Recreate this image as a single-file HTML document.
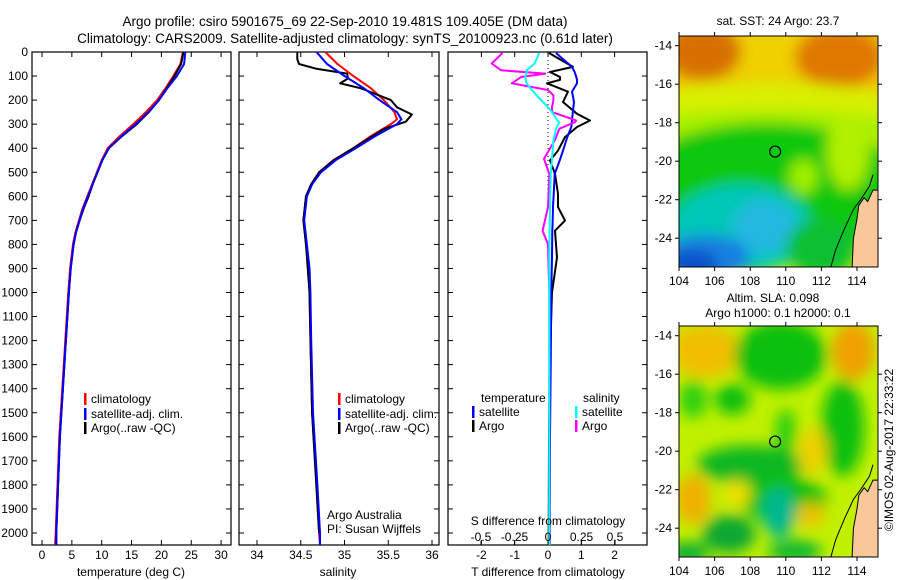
<!DOCTYPE html>
<html><head><meta charset="utf-8"><style>
body{margin:0;background:#fff;}
svg{display:block;font-family:"Liberation Sans",sans-serif;}
</style></head><body>
<svg id="fig" width="900" height="580" viewBox="0 0 900 580" xmlns="http://www.w3.org/2000/svg">
<defs>
<filter id="blur1" x="-20%" y="-20%" width="140%" height="140%"><feGaussianBlur stdDeviation="7"/></filter>
<clipPath id="clipMap1"><rect x="679" y="36" width="199" height="231"/></clipPath>
<clipPath id="clipMap2"><rect x="679" y="326" width="199" height="231"/></clipPath>
</defs>
<text x="345" y="26" font-size="13.5" text-anchor="middle">Argo profile: csiro 5901675_69 22-Sep-2010 19.481S 109.405E (DM data)</text>
<text x="345" y="43" font-size="13.5" text-anchor="middle">Climatology: CARS2009. Satellite-adjusted climatology: synTS_20100923.nc (0.61d later)</text>
<g id="panels"></g>
<g id="maps"></g>
<text transform="translate(893,450) rotate(-90)" font-size="12" text-anchor="middle">©IMOS 02-Aug-2017 22:33:22</text>
</svg>
<script>
// ---- data ----
const depthTicks = [0,100,200,300,400,500,600,700,800,900,1000,1100,1200,1300,1400,1500,1600,1700,1800,1900,2000];
const tempTicks = [0,5,10,15,20,25,30];
const salTicks = [34,34.5,35,35.5,36];
const salTickLabels = ["34","34.5","35","35.5","36"];
const tdiffTicks = [-2,-1,0,1,2];
const sdiffTicks = [-0.5,-0.25,0,0.25,0.5];
const sdiffTickLabels = ["-0.5","-0.25","0","0.25","0.5"];

const tDepth = [0,50,100,150,200,250,300,350,400,450,500,550,600,650,700,750,800,900,1000,1200,1400,1600,1800,2000,2050];
const tClim  = [23.6,23.2,22.0,20.7,19.3,17.4,15.3,13.0,11.0,10.0,9.2,8.4,7.6,6.8,6.2,5.6,5.2,4.7,4.4,3.9,3.4,2.9,2.6,2.3,2.2];
const tSat   = [24.0,23.8,22.6,21.0,19.6,17.8,15.7,13.3,11.2,10.1,9.3,8.5,7.7,6.9,6.3,5.7,5.3,4.8,4.5,4.0,3.5,3.0,2.7,2.4,2.4];
const tArgo  = [23.7,23.3,22.2,20.9,19.6,17.9,15.9,13.4,11.2,10.1,9.3,8.5,7.8,7.0,6.3,5.7,5.3,4.8,4.5,4.0,3.5,3.0,2.7,2.4,2.4];

const sDepth = [0,50,100,150,200,250,280,300,350,400,450,500,550,600,700,800,900,1000,1200,1500,1800,2000,2050];
const sClim  = [34.78,34.92,35.1,35.3,35.45,35.57,35.6,35.53,35.3,35.1,34.87,34.71,34.62,34.56,34.53,34.56,34.6,34.6,34.61,34.63,34.68,34.71,34.72];
const sSat   = [34.68,34.8,35.0,35.22,35.4,35.6,35.65,35.6,35.35,35.13,34.9,34.73,34.63,34.57,34.54,34.57,34.6,34.61,34.62,34.64,34.69,34.72,34.72];
const aDepth = [0,30,50,70,90,110,130,150,200,230,260,290,320,400,450,500,550,600,700,800,1000,1500,2000];
const sArgo  = [34.46,34.46,34.48,34.68,35.03,35.04,34.95,35.18,35.53,35.6,35.77,35.7,35.45,35.1,34.88,34.71,34.62,34.56,34.53,34.56,34.6,34.63,34.71];

const dDepth  = [4,62,83,104,116,130,165,208,257,285,312,354,410,451,507,590,645,701,743,854,1000,1300,1600,2050];
const dTsat   = [0.24,0.72,0.8,0.85,0.87,0.87,0.72,0.78,0.74,0.72,0.7,0.58,0.45,0.35,0.2,0.17,0.15,0.14,0.13,0.12,0.1,0.08,0.06,0.05];
const dTargo  = [0.03,0.75,0.06,0.36,0.36,-0.03,0.6,0.45,0.87,1.26,0.87,0.51,0.3,0.06,0.21,0.3,0.3,0.51,0.21,0.27,0.12,0.05,0.03,0.02];
const sdDepth = [4,48,76,90,104,130,158,180,201,229,250,285,292,319,368,444,507,645,743,800,1000,1500,2050];
const dSsat   = [-0.065,-0.1,-0.16,-0.16,-0.17,-0.16,-0.12,-0.085,-0.05,0,0.03,0.07,0.085,0.06,0.04,0.03,0.02,0.015,0.012,0.01,0.01,0.01,0.01];
const dSargo  = [-0.34,-0.42,-0.35,-0.02,-0.2,-0.27,0,0.04,0.04,0.03,0.03,0.21,0.2,0.085,0.05,-0.03,0.01,0.0,-0.04,0.0,0.01,0.01,0.01];

// ---- helpers ----
const NS = "http://www.w3.org/2000/svg";
const P = document.getElementById('panels');
const M = document.getElementById('maps');
function mk(tag, attrs, parent){ const e=document.createElementNS(NS,tag); for(const k in attrs) e.setAttribute(k,attrs[k]); (parent||P).appendChild(e); return e; }
const yTop=52, yBot=545;
const yDepth = d => yTop + d*0.2405;
const xTemp = t => 42 + t*5.97;
const xSal = s => 257 + (s-34)*87.5;
const xTd = t => 548 + t*33.3;
const xSd = s => 548 + s*134;

function frame(x0,x1,name){
  const r=mk('rect',{x:x0,y:yTop,width:x1-x0,height:yBot-yTop,fill:'none',stroke:'#000','stroke-width':1.2});
  
  
  depthTicks.forEach(d=>{ const y=yDepth(d);
    mk('line',{x1:x0,x2:x0+5,y1:y,y2:y,stroke:'#000'}); mk('line',{x1:x1-5,x2:x1,y1:y,y2:y,stroke:'#000'}); });
}
function xticks(vals,labels,fx,name){
  vals.forEach((v,i)=>{ const x=fx(v);
    mk('line',{x1:x,x2:x,y1:yTop,y2:yTop+5,stroke:'#000'}); mk('line',{x1:x,x2:x,y1:yBot-5,y2:yBot,stroke:'#000'});
    const t=mk('text',{x:x,y:559,'font-size':12,'text-anchor':'middle'}); t.textContent=labels[i];
    
    
  });
}
function line(xs,ds,fx,col,w,name){
  const pts=xs.map((v,i)=>fx(v).toFixed(1)+','+yDepth(ds[i]).toFixed(1)).join(' ');
  const l=mk('polyline',{points:pts,fill:'none',stroke:col,'stroke-width':w||2,'stroke-linejoin':'round'});
  
  
}
function txt(x,y,s,name,anchor,size){ const t=mk('text',{x:x,y:y,'font-size':size||12,'text-anchor':anchor||'start'}); t.textContent=s;
  
   return t; }
function legendEntry(x,y,col,label,name){
  mk('rect',{x:x,y:y-10,width:2.5,height:12,fill:col});
  txt(x+7,y,label,name);
}

// depth labels
depthTicks.forEach(d=>{ txt(28,yDepth(d)+4,String(d),'depth-tick-label','end'); });

// panel 1 temperature
frame(32,231,'temperature-panel');
xticks(tempTicks,tempTicks.map(String),xTemp,'temperature-tick-label');
line(tClim,tDepth,xTemp,'#f00',2,'temperature-climatology-line');
line(tArgo,tDepth,xTemp,'#000',2,'temperature-argo-line');
line(tSat,tDepth,xTemp,'#00f',2,'temperature-satellite-line');
txt(131,576,'temperature (deg C)','temperature-axis-title','middle');
legendEntry(84,403,'#f00','climatology','legend-climatology');
legendEntry(84,418,'#00f','satellite-adj. clim.','legend-satellite');
legendEntry(84,432,'#000','Argo(..raw -QC)','legend-argo');

// panel 2 salinity
frame(239,439,'salinity-panel');
xticks(salTicks,salTickLabels,xSal,'salinity-tick-label');
line(sClim,sDepth,xSal,'#f00',2,'salinity-climatology-line');
line(sArgo,aDepth,xSal,'#000',2,'salinity-argo-line');
line(sSat,sDepth,xSal,'#00f',2,'salinity-satellite-line');
txt(338,576,'salinity','salinity-axis-title','middle');
legendEntry(338,403,'#f00','climatology','legend-climatology-2');
legendEntry(338,418,'#00f','satellite-adj. clim.','legend-satellite-2');
legendEntry(338,432,'#000','Argo(..raw -QC)','legend-argo-2');
txt(327,519,'Argo Australia','argo-australia-label');
txt(327,533,'PI: Susan Wijffels','pi-label');

// panel 3 differences
frame(448,647,'difference-panel');
xticks(tdiffTicks,tdiffTicks.map(String),xTd,'tdiff-tick-label');
mk('line',{x1:548,x2:548,y1:yTop,y2:200,stroke:'#000','stroke-dasharray':'1,3'});
line(dTargo,dDepth,xTd,'#000',2,'tdiff-argo-line');
line(dTsat,dDepth,xTd,'#00f',2,'tdiff-satellite-line');
line(dSargo,sdDepth,xSd,'#f0f',2,'sdiff-argo-line');
line(dSsat,sdDepth,xSd,'#0ff',2,'sdiff-satellite-line');
sdiffTicks.forEach((v,i)=>{ const x=xSd(v); mk('line',{x1:x,x2:x,y1:541,y2:545,stroke:'#000'});
  txt(x,541,sdiffTickLabels[i],'sdiff-tick-label','middle'); });
txt(548,525,'S difference from climatology','sdiff-axis-title','middle');
txt(548,576,'T difference from climatology','tdiff-axis-title','middle');
txt(481,402,'temperature','legend-temperature-header');
txt(583,402,'salinity','legend-salinity-header');
legendEntry(472,416,'#00f','satellite','legend-t-satellite');
legendEntry(472,430,'#000','Argo','legend-t-argo');
legendEntry(575,416,'#0ff','satellite','legend-s-satellite');
legendEntry(575,430,'#f0f','Argo','legend-s-argo');

// ---- maps ----
const lonTicks=[104,106,108,110,112,114];
const latTicks=[-14,-16,-18,-20,-22,-24];
function drawMap(y0,clip,blobs,bg,name){
  const xl = lon => 679 + (lon-104)*17.8;
  const yl = lat => (y0+9.7) + (-14-lat)*19.25;
  const g=mk('g',{'clip-path':'url(#'+clip+')'},M);
  
  
  mk('rect',{x:679,y:y0,width:199,height:231,fill:bg},g);
  const gb=mk('g',{filter:'url(#blur1)'},g);
  blobs.forEach(b=>{ mk('ellipse',{cx:xl(b[0]),cy:yl(b[1]),rx:b[2]*17.8,ry:b[3]*19.25,fill:b[4]},gb); });
  // land
  const land=[[113.7,-26],[113.8,-24],[114.0,-23],[114.1,-22.3],[114.4,-21.9],[114.6,-22.1],[114.9,-21.5],[115.5,-21.5],[115.5,-26]];
  mk('polygon',{points:land.map(p=>xl(p[0])+','+yl(p[1])).join(' '),fill:'#f8c898',stroke:'#000','stroke-width':1},g);
  const coast=[[112.5,-25.6],[112.8,-24.6],[113.3,-23.5],[113.8,-22.5],[114.2,-22],[114.7,-21.3],[114.9,-20.7]];
  mk('polyline',{points:coast.map(p=>xl(p[0])+','+yl(p[1])).join(' '),fill:'none',stroke:'#000','stroke-width':1},g);
  mk('circle',{cx:xl(109.4),cy:yl(-19.5),r:5.5,fill:'none',stroke:'#000','stroke-width':1.2},M);
  mk('rect',{x:679,y:y0,width:199,height:231,fill:'none',stroke:'#000','stroke-width':1},M);
  lonTicks.forEach(l=>{ const x=xl(l); mk('line',{x1:x,x2:x,y1:y0-4,y2:y0,stroke:'#000'},M); mk('line',{x1:x,x2:x,y1:y0+231,y2:y0+235,stroke:'#000'},M);
    const t=mk('text',{x:x,y:y0+249,'font-size':12,'text-anchor':'middle'},M); t.textContent=String(l);
    
     });
  latTicks.forEach(l=>{ const y=yl(l); mk('line',{x1:675,x2:679,y1:y,y2:y,stroke:'#000'},M); mk('line',{x1:878,x2:882,y1:y,y2:y,stroke:'#000'},M);
    const t=mk('text',{x:672,y:y+4,'font-size':12,'text-anchor':'end'},M); t.textContent=String(l);
    
     });
}
const sstBlobs=[
 [109,-15.5,9,3.5,'#f0c800'],[109,-14.3,2.5,1.5,'#f0d000'],[105.3,-14.3,2.2,1.5,'#d87000'],[113,-14.6,2.5,1.6,'#e07800'],
 [109,-17.3,8,1.4,'#d8f000'],[109,-18.3,8,1,'#a8f000'],
 [109,-21.5,8,3.5,'#10c810'],[111,-20.8,0.8,0.9,'#a0f000'],[113.5,-19.5,1.2,2,'#b0f000'],
 [107.5,-23.5,4,2.3,'#00c8b8'],[108.8,-23.4,1.8,1.4,'#20b8e0'],[105.5,-25,2.5,1.2,'#1880e0'],[104.8,-25.4,1.4,0.8,'#1050c8'],
 [112,-24.5,2,1.5,'#10c030']];
const slaBlobs=[
 [105.5,-14.8,2,1.4,'#f0c000'],[113.8,-14.8,1.2,1.5,'#f0a000'],[109.7,-15,2.6,1.8,'#10c010'],
 [104.8,-17.3,0.8,1,'#30d010'],[107,-17.3,1,0.8,'#10c010'],[113.2,-18.8,1.2,2.5,'#10c010'],[110,-19,0.6,1.2,'#30d010'],
 [108,-20.7,3,1,'#10b820'],[109.8,-22.5,2.5,1.2,'#10c010'],[109.6,-23.2,0.9,1.3,'#00b890'],
 [104.8,-22.5,1,1.3,'#f0b000'],[111.5,-20,0.8,1.2,'#f0d000'],[111.4,-23.3,0.8,0.6,'#f0c000'],[107.3,-22.2,0.7,0.7,'#f0e000'],
 [106.8,-24.3,1.5,1,'#10a830'],[104.5,-25.3,1.2,0.6,'#10b030'],[110.5,-25.2,1.5,0.6,'#10b830']];
drawMap(36,'clipMap1',sstBlobs,'#c8f000','sst-map');
drawMap(326,'clipMap2',slaBlobs,'#c0f000','sla-map');
txt(778,25,'sat. SST: 24 Argo: 23.7','sst-map-title','middle');
txt(773,302,'Altim. SLA: 0.098','sla-map-title','middle');
txt(778,317,'Argo h1000: 0.1 h2000: 0.1','argo-height-title','middle');
</script>
</body></html>
